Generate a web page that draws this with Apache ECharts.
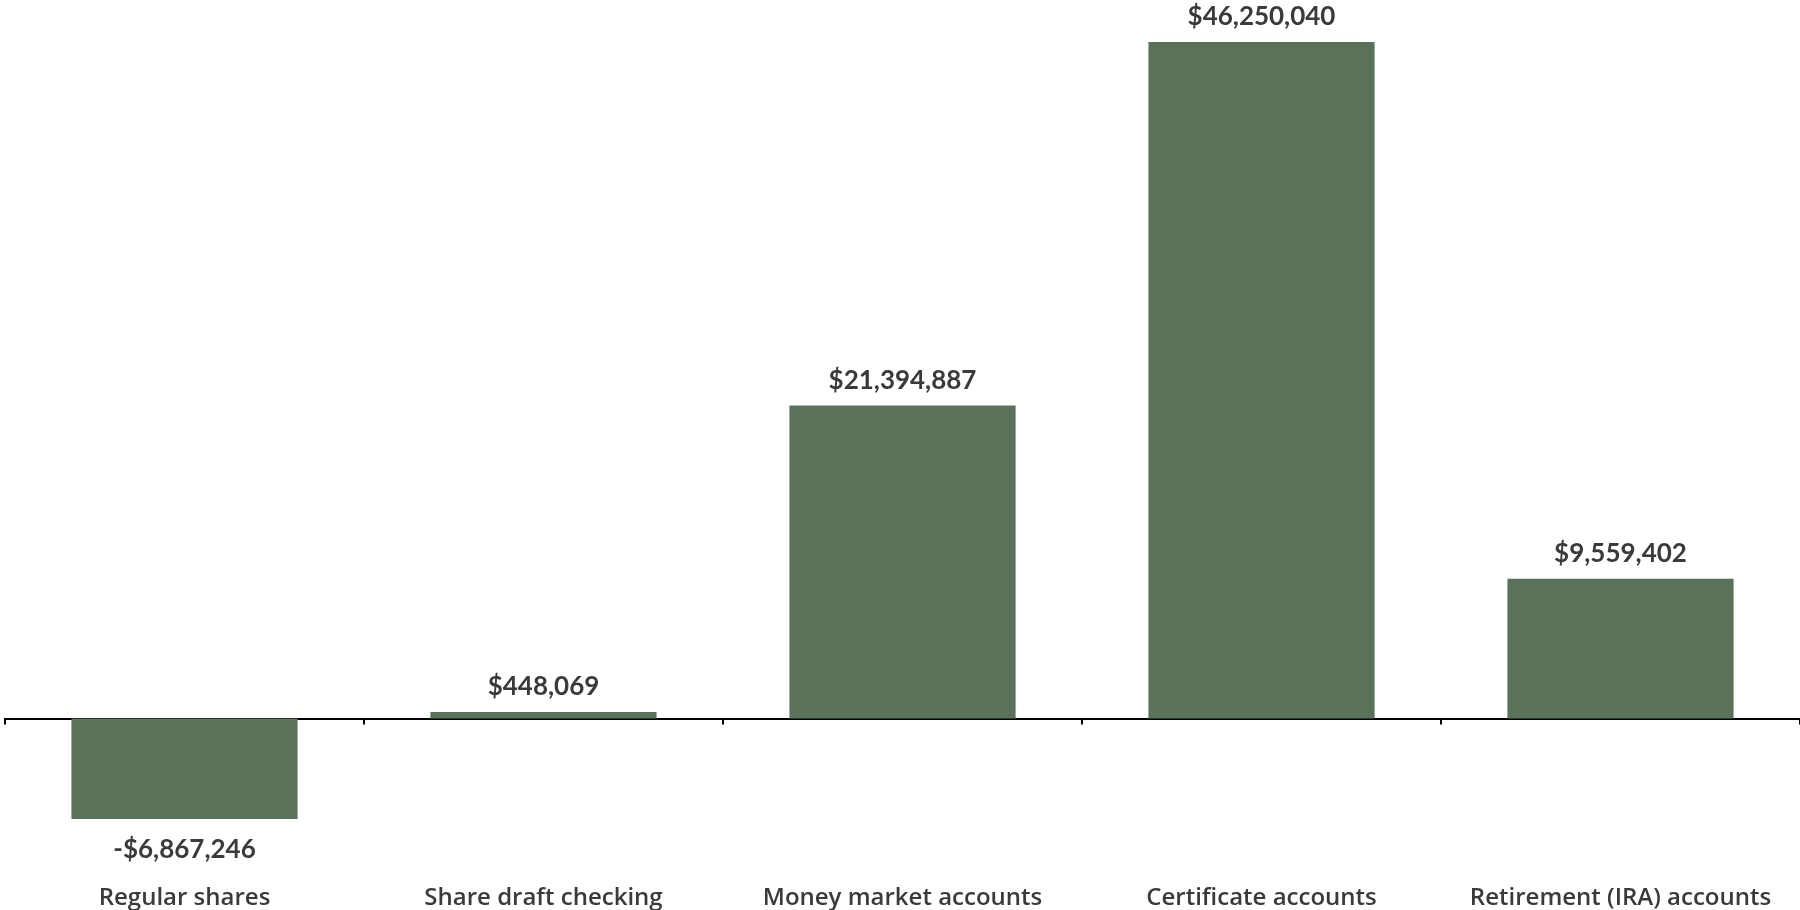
<!DOCTYPE html>
<html>
<head>
<meta charset="utf-8">
<style>
  html, body { margin: 0; padding: 0; background: #ffffff; }
  #chart { width: 1800px; height: 910px; }
</style>
<script src="https://cdn.jsdelivr.net/npm/echarts@6/dist/echarts.min.js"></script>
</head>
<body>
<div id="chart"></div>
<script>
// Change in balances by account type
const categories = ['Regular shares', 'Share draft checking', 'Money market accounts', 'Certificate accounts', 'Retirement (IRA) accounts'];
const values = [-6867246, 448069, 21394887, 46250040, 9559402];

const barColor = '#5a7259';
const textColor = '#3a3a3a';

function money(v) {
  const s = '$' + Math.abs(v).toLocaleString('en-US');
  return v < 0 ? '-' + s : s;
}

const chart = echarts.init(document.getElementById('chart'));
chart.setOption({
  animation: false,
  grid: { left: 5, right: 0, top: 42, bottom: 91, containLabel: false, outerBoundsMode: 'none' },
  xAxis: [{
    // zero baseline with boundary ticks
    type: 'category',
    data: categories,
    position: 'bottom',
    axisLine: { onZero: true, lineStyle: { color: '#000000', width: 2 } },
    axisTick: { show: true, length: 6, lineStyle: { color: '#000000', width: 2 } },
    axisLabel: { show: false }
  }, {
    // category names along the bottom edge
    type: 'category',
    data: categories,
    position: 'bottom',
    offset: 0,
    axisLine: { show: false, onZero: false },
    axisTick: { show: false },
    axisLabel: {
      margin: 67,
      color: textColor,
      fontFamily: 'Open Sans',
      fontWeight: 600,
      fontSize: 24,
      interval: 0
    }
  }],
  yAxis: {
    type: 'value',
    min: Math.min(...values),
    max: Math.max(...values),
    show: false,
    splitLine: { show: false }
  },
  series: [{
    type: 'bar',
    barWidth: '63%',
    itemStyle: { color: barColor },
    data: values.map(v => ({
      value: v,
      label: {
        show: true,
        position: v < 0 ? 'bottom' : 'top',
        distance: v < 0 ? 18 : 12,
        formatter: p => money(p.value),
        color: textColor,
        fontFamily: 'Lato',
        fontWeight: 'bold',
        fontSize: 26
      }
    }))
  }]
});
</script>
</body>
</html>
